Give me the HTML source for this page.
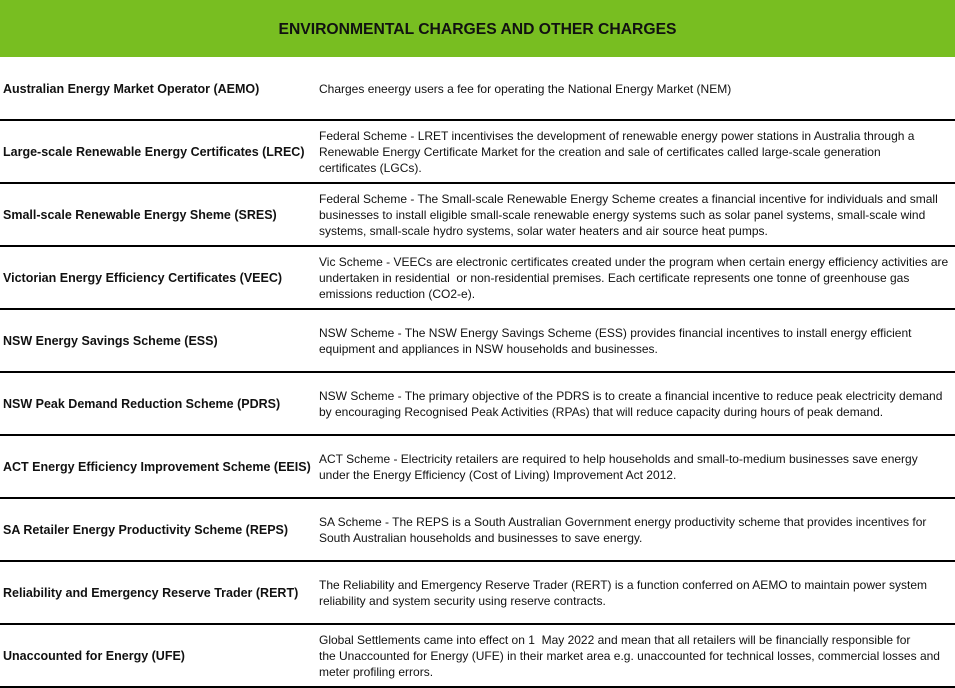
<!DOCTYPE html>
<html><head><style>
body{margin:0;width:955px;height:687px;background:#fff;font-family:"Liberation Sans",sans-serif;color:#111;overflow:hidden;position:relative}
.hdr{position:absolute;left:0;top:0;width:955px;height:57px;background:#78be21;text-align:center;font-weight:bold;font-size:15.7px;line-height:60px;color:#111}
.row{position:absolute;left:0;width:955px;height:61px;border-bottom:2px solid #000}
.lab{position:absolute;left:3px;top:0;height:61px;display:flex;align-items:center;font-weight:bold;font-size:12.5px;white-space:nowrap}
.desc{position:absolute;left:319px;top:0;height:61px;display:flex;align-items:center;font-size:12px;line-height:16px;white-space:nowrap}
</style></head><body>
<div class="hdr">ENVIRONMENTAL CHARGES AND OTHER CHARGES</div>
<div class="row" style="top:58px"><div class="lab">Australian Energy Market Operator (AEMO)</div><div class="desc"><div>Charges eneergy users a fee for operating the National Energy Market (NEM)</div></div></div>
<div class="row" style="top:121px"><div class="lab">Large-scale Renewable Energy Certificates (LREC)</div><div class="desc"><div>Federal Scheme - LRET incentivises the development of renewable energy power stations in Australia through a<br>Renewable Energy Certificate Market for the creation and sale of certificates called large-scale generation<br>certificates (LGCs).</div></div></div>
<div class="row" style="top:184px"><div class="lab">Small-scale Renewable Energy Sheme (SRES)</div><div class="desc"><div>Federal Scheme - The Small-scale Renewable Energy Scheme creates a financial incentive for individuals and small<br>businesses to install eligible small-scale renewable energy systems such as solar panel systems, small-scale wind<br>systems, small-scale hydro systems, solar water heaters and air source heat pumps.</div></div></div>
<div class="row" style="top:247px"><div class="lab">Victorian Energy Efficiency Certificates (VEEC)</div><div class="desc"><div>Vic Scheme - VEECs are electronic certificates created under the program when certain energy efficiency activities are<br>undertaken in residential&nbsp; or non-residential premises. Each certificate represents one tonne of greenhouse gas<br>emissions reduction (CO2-e).</div></div></div>
<div class="row" style="top:310px"><div class="lab">NSW Energy Savings Scheme (ESS)</div><div class="desc"><div>NSW Scheme - The NSW Energy Savings Scheme (ESS) provides financial incentives to install energy efficient<br>equipment and appliances in NSW households and businesses.</div></div></div>
<div class="row" style="top:373px"><div class="lab">NSW Peak Demand Reduction Scheme (PDRS)</div><div class="desc"><div>NSW Scheme - The primary objective of the PDRS is to create a financial incentive to reduce peak electricity demand<br>by encouraging Recognised Peak Activities (RPAs) that will reduce capacity during hours of peak demand.</div></div></div>
<div class="row" style="top:436px"><div class="lab">ACT Energy Efficiency Improvement Scheme (EEIS)</div><div class="desc"><div>ACT Scheme - Electricity retailers are required to help households and small-to-medium businesses save energy<br>under the Energy Efficiency (Cost of Living) Improvement Act 2012.</div></div></div>
<div class="row" style="top:499px"><div class="lab">SA Retailer Energy Productivity Scheme (REPS)</div><div class="desc"><div>SA Scheme - The REPS is a South Australian Government energy productivity scheme that provides incentives for<br>South Australian households and businesses to save energy.</div></div></div>
<div class="row" style="top:562px"><div class="lab">Reliability and Emergency Reserve Trader (RERT)</div><div class="desc"><div>The Reliability and Emergency Reserve Trader (RERT) is a function conferred on AEMO to maintain power system<br>reliability and system security using reserve contracts.</div></div></div>
<div class="row" style="top:625px"><div class="lab">Unaccounted for Energy (UFE)</div><div class="desc"><div>Global Settlements came into effect on 1&nbsp; May 2022 and mean that all retailers will be financially responsible for<br>the Unaccounted for Energy (UFE) in their market area e.g. unaccounted for technical losses, commercial losses and<br>meter profiling errors.</div></div></div>
</body></html>
